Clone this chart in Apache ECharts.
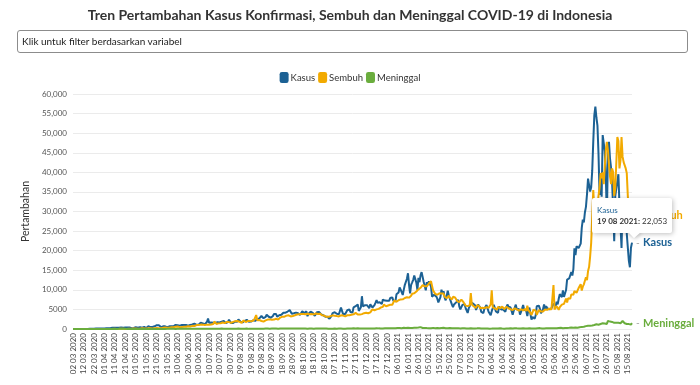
<!DOCTYPE html>
<html>
<head>
<meta charset="utf-8">
<script src="https://cdn.jsdelivr.net/npm/echarts@6/dist/echarts.min.js"></script>
<style>
  html, body { margin: 0; padding: 0; background: #fff; }
  #chart { position: absolute; left: 0; top: 0; width: 700px; height: 385px; }
  .filter {
    position: absolute; left: 17px; top: 30px; width: 665px; height: 21px;
    border: 1px solid #8c8c8c; border-radius: 3px; box-sizing: content-box;
    font: 10px Lato, sans-serif; color: #222; line-height: 21px; padding-left: 4px;
  }
</style>
</head>
<body>
<div id="chart"></div>
<div class="filter">Klik untuk filter berdasarkan variabel</div>
<script>
// data harian mulai 02 03 2020 (tanggal 01 07 2021 tidak ada di data)
const kasus2020 = [
  2,0,0,0,2,0,2,13,8,7,0,35,27,21,17,38,55,82,60,81,64,65,107,105,103,153,109,130,129,114, // mar
  149,113,196,106,181,218,247,218,337,219,330,399,316,282,297,380,407,325,327,185,375,283,357,436,396,275,214,415,260,347, // apr
  433,292,349,395,484,367,338,336,533,387,233,484,689,568,490,529,496,486,693,486,973,634,949,526,479,415,686,687,678,700,467, // mei
  609,684,585,703,993,672,847,1043,1241,979,1111,857,1014,1017,1106,1031,1331,1041,1226,862,954,1051,1113,1178,1385,1385,1198,1082,1293,1082, // jun
  1560,1624,1301,1447,1607,1209,1268,1853,2657,1611,1671,1681,1282,1591,1522,1574,1462,1752,1639,1693,1655,1882,1906,2040,1868,1492,1525,1748,2381,1904,1519, // jul
  1560,1519,1679,1922,1815,1882,2473,2277,1893,1687,1693,1942,2098,2307,2345,2081,1821,1673,1902,2266,2197,2037,2079,1877,2447,2306,2719,3003,3308,2858,2743, // agu
  2775,3075,3622,3269,3128,3444,2880,3046,3307,3861,3737,3806,3141,3636,3507,3963,3635,3891,4168,3989,4176,4071,4465,4634,4823,4494,3874,4012,4002,4284, // sep
  4174,4317,4007,3992,3622,4056,4538,4850,4094,4294,4497,3267,3906,4127,4411,4301,4105,4432,3373,3602,4267,4432,4369,4070,3732,3222,3520,4029,3143,2897,3143, // okt
  2696,2618,2973,3356,4065,4262,4262,4002,3880,3779,3770,4173,5444,5272,3807,3535,3807,4265,4798,4792,4998,4360,4442,4192,5534,5503,5828,5418,6267,4617, // nov
  5092,5533,8369,5803,6027,6089,5754,6058,6033,5292,6310,6388,5489,5489,6120,6725,7354,6689,6725,6848,6848,6347,7514,7199,7259,7518,7203,7159,7192,7903,8074 // des
];
const kasus2021 = [
  8072,7203,6877,7072,8854,8367,9321,10617,10046,9640,8692,10047,11278,11557,12818,14224,11287,9086,11287,11910,12568,13632,13802,11788,9994,13094,11948,13695,14518,13312,12001, // jan
  10994,9883,11984,11434,12156,11900,10827,8242,8700,8776,8435,8323,7750,6765,6462,8151,10029,9039,9687,8054,7300,7365,9775,8493,7735,8232,6208,5560, // feb
  6264,6613,6808,6971,7445,5767,4993,5079,6147,6473,6357,5414,5633,4092,5251,5825,6762,6279,6528,6069,6068,4849,5203,6242,5937,5461,4360,4671,4077,5156,5464, // mar
  6132,5656,4402,4095,3525,4549,5325,6177,6175,4471,4829,4127,5702,6020,4986,5465,4952,5041,4394,5549,6243,5720,5436,5488,4585,3643,4656,5445,6218,4930, // apr
  4711,5155,3662,4369,5242,6130,4926,4736,4605,3276,4891,5424,3781,2385,3080,2888,2633,3495,5797,5613,5980,5205,3999,3922,5060,6278,5205,5833,5296,5080,5018, // mei
  4824,5246,5353,6486,6594,5832,6993,6294,7725,8892,8892,8161,9868,8189,8161,9944,12624,12990,12906,13737,14536,13668,15308,20574,18872,21095,21342,20694,20467,21807, // jun
  25830,27913,27233,29745,31189,34379,38391,38124,35094,36197,40427,47899,54517,56757,54000,51952,44721,34257,38325,33772,49509,49071,45416,38679,28228,45203,47791,43479,41168,37284, // jul (02-31)
  30738,22404,33900,35867,35764,39532,31753,26415,20709,32081,30625,30788,28598,24308,20813,17384,15768,20741,22053 // agu
];

const sembuh2020 = [
  0,0,0,0,0,0,0,0,0,2,0,3,3,1,0,0,4,4,3,9,4,1,10,0,6,3,16,5,1,6,
  16,9,12,29,11,25,16,12,9,48,46,45,30,24,39,74,55,53,55,42,19,34,41,93,87,47,38,80,100,95,
  101,44,51,120,72,89,196,243,105,188,108,240,172,157,162,156,120,127,203,279,263,346,183,170,181,123,292,308,355,480,331,
  471,346,389,470,307,438,434,556,602,634,542,477,588,479,510,554,603,554,637,719,625,631,553,808,1033,759,764,1011,770,1027,
  1072,1120,1182,1113,1013,1000,1091,1116,1293,1102,1126,1141,1052,1252,1910,1489,1297,1371,1436,1533,1475,1476,1670,1655,1518,1625,1815,1820,1765,1818,1596,
  1578,1821,2038,2004,2189,2048,1834,1865,1611,1592,1769,2181,2190,1792,1881,2033,1656,2015,2159,2004,2042,2326,1917,3560,2235,1794,2307,2212,2040,2186,1913,
  2020,2216,2268,2402,2417,2453,2340,2351,2347,2405,2531,2620,2505,2410,2680,2910,2660,3145,3120,3132,3231,3411,3211,3509,3417,3213,3189,3313,3500,3499,
  3620,3707,3650,3770,3835,3812,3827,3812,4009,3745,4046,3904,3803,3766,3760,3805,3812,3732,3855,3946,3933,3829,3840,3900,3648,3481,3373,3425,3386,3125,3109,
  3125,3069,3271,3109,3497,3573,3359,3397,3290,3223,3193,3293,3487,3352,3419,3218,3231,3484,3508,3474,3501,3594,3655,3567,3747,3861,4103,3989,3718,3917,
  3673,3930,3803,3867,4040,3784,4132,4023,4015,4189,4259,4377,5011,4728,4779,4898,5006,5171,5142,5273,5476,5560,5639,6232,5991,5822,5734,6015,5938,6193,5827
];
const sembuh2021 = [
  6190,5745,7305,7045,6938,7098,7346,7549,7548,7367,7584,8089,7910,8075,8088,8089,8009,8302,8474,9014,8996,9101,9415,9567,9812,10123,10064,10521,10436,11206,10874,
  10898,11087,10933,11263,11612,11891,12186,10970,9838,9543,8972,9117,8736,8896,9105,8851,9051,8872,9045,8234,7900,7880,7895,8493,7964,8103,7550,8224,
  8264,8048,7634,7125,7150,6864,6450,7520,7205,6843,6563,5975,5890,5846,5892,6050,9180,6260,6155,5760,5600,5370,6089,6390,5820,5290,5340,5405,4946,5321,5436,
  5568,5510,5390,5145,6250,9900,5520,5488,5250,5610,4965,5640,5210,5340,5385,5720,5690,5100,4918,5660,6103,5300,5230,5040,4760,4850,5125,5255,5285,4990,
  4890,4690,4770,5050,5340,4760,4680,5140,4580,5950,4790,5150,4150,3580,3670,4980,4640,4650,3610,3650,4870,4580,4440,4750,4480,4040,4980,5180,4880,4900,5220,
  5330,4985,4820,11200,4980,5410,5800,6100,4890,5570,5920,6230,6030,6420,6100,7790,6760,7870,8120,7690,8840,8730,8770,9680,9190,9250,9590,10460,10800,11450,
  9800,10800,11400,12300,13200,12500,14800,15800,18500,22000,28700,35500,30500,33000,33000,31500,34000,36000,39800,38500,40000,37000,41500,45700,47800,45700,42000,39000,37000,41000,
  40000,34000,36000,42400,49000,48000,41000,43000,49000,44000,42600,42400,41000,39800,34000,30000,28500,31000,29100
];

const meninggal2020 = [
  0,0,0,0,0,0,0,0,0,1,0,3,1,1,0,0,12,6,7,7,10,1,1,3,3,4,11,9,0,8,
  14,13,11,10,10,7,11,10,40,26,21,24,26,25,40,46,33,15,47,8,42,21,19,22,13,25,12,13,21,14,
  7,31,6,16,29,11,24,27,13,16,21,16,14,12,16,10,21,19,23,17,20,35,21,14,15,19,20,28,27,24,32,
  19,41,35,50,49,53,56,29,33,36,41,36,34,45,41,34,42,43,48,49,45,38,45,41,49,44,39,50,51,37,
  56,53,66,71,47,70,58,58,63,58,61,71,63,87,59,84,76,59,86,71,58,117,65,82,59,57,74,65,74,74,62,
  44,73,66,64,64,66,100,65,64,53,79,79,65,58,118,68,34,80,79,69,82,86,85,73,79,64,92,92,93,109,70,
  104,99,110,105,87,85,70,105,88,107,114,109,94,92,124,135,113,114,105,104,128,160,128,103,114,128,87,113,123,120,
  116,123,108,116,98,105,91,108,127,105,86,95,104,123,103,103,104,81,94,123,103,116,100,112,103,113,109,125,92,118,100,
  80,78,91,105,89,102,106,102,82,91,99,104,104,104,86,90,78,110,103,103,118,96,113,118,169,141,125,130,169,85,
  118,100,156,174,130,147,116,144,140,120,125,167,143,155,128,135,201,158,160,221,156,175,151,200,200,155,166,268,216,177,216
];
const meninggal2021 = [
  187,203,225,178,187,240,233,242,224,208,156,302,306,254,246,340,217,255,346,257,297,288,336,307,228,387,387,476,210,264,269,
  238,250,224,279,217,236,214,159,287,211,217,245,250,244,186,186,262,227,324,188,209,228,181,251,243,250,189,184,
  219,173,192,190,222,176,118,136,179,185,167,134,138,108,124,133,193,151,115,112,105,113,160,149,178,127,116,102,109,110,149,
  109,121,119,75,125,107,128,145,111,102,111,107,140,171,176,109,140,90,121,116,117,142,101,194,193,127,155,203,185,165,
  163,159,135,100,163,190,178,144,151,126,176,194,144,123,156,128,123,143,174,197,199,224,130,139,145,149,163,185,188,164,132,
  160,169,184,142,163,214,166,130,251,256,299,238,193,176,267,267,251,283,297,294,355,294,316,358,379,409,325,455,445,467,
  539,493,555,558,728,1040,852,870,826,982,891,1007,1012,982,1205,1092,1093,1338,1280,1383,1449,1566,1415,1487,1266,2069,1824,1893,1759,1808,
  1604,1568,1747,1598,1739,1588,1588,1475,1475,2048,1579,1466,1432,1270,1467,1245,1128,1128,1492
];

const kasus = kasus2020.concat(kasus2021);
const sembuh = sembuh2020.concat(sembuh2021);
const meninggal = meninggal2020.concat(meninggal2021);

// label tanggal "dd mm yyyy", 02 03 2020 s.d. 19 08 2021 tanpa tanggal yang hilang
const tanggalHilang = ['01 07 2021'];
const pad = n => (n < 10 ? '0' : '') + n;
const tanggal = [];
for (let t = Date.UTC(2020, 2, 2); t <= Date.UTC(2021, 7, 19); t += 86400000) {
  const d = new Date(t);
  const s = pad(d.getUTCDate()) + ' ' + pad(d.getUTCMonth() + 1) + ' ' + d.getUTCFullYear();
  if (tanggalHilang.indexOf(s) < 0) tanggal.push(s);
}

const warna = { kasus: '#1c6194', sembuh: '#f2aa00', meninggal: '#6aad3d' };
const font = 'Lato, sans-serif';

const endLbl = (nama, c) => ({
  show: true,
  distance: 4,
  formatter: '{d|-} {n|' + nama + '}',
  rich: {
    d: { color: '#999', fontSize: 10, fontFamily: font },
    n: { color: c, fontSize: 11, fontWeight: 'bold', fontFamily: font }
  }
});

const last = kasus.length - 1;
const tipZ = 100;

const chart = echarts.init(document.getElementById('chart'));
chart.setOption({
  animation: false,
  color: [warna.kasus, warna.sembuh, warna.meninggal],
  title: {
    text: 'Tren Pertambahan Kasus Konfirmasi, Sembuh dan Meninggal COVID-19 di Indonesia',
    left: 'center',
    top: 3,
    textStyle: { fontFamily: font, fontSize: 14, fontWeight: 'bold', color: '#333' }
  },
  legend: {
    top: 67,
    left: 'center',
    itemWidth: 9,
    itemHeight: 11,
    itemGap: 3,
    icon: 'roundRect',
    textStyle: { fontFamily: font, fontSize: 9.5, color: '#333', padding: [0, 0, 0, -3] },
    data: ['Kasus', 'Sembuh', 'Meninggal']
  },
  grid: { left: 73, right: 68, top: 94, bottom: 56 },
  xAxis: {
    type: 'category',
    boundaryGap: false,
    data: tanggal,
    axisLine: { show: false },
    axisTick: { show: false },
    axisLabel: {
      interval: 9,
      rotate: 90,
      margin: 4,
      fontFamily: font,
      fontSize: 8,
      color: '#444'
    }
  },
  yAxis: {
    type: 'value',
    min: 0,
    max: 60000,
    interval: 5000,
    name: 'Pertambahan',
    nameLocation: 'middle',
    nameGap: 28,
    nameTextStyle: { fontFamily: font, fontSize: 10.5, color: '#333' },
    axisLabel: {
      fontFamily: font,
      fontSize: 8,
      color: '#555',
      margin: 6,
      formatter: v => (v >= 10000 ? v.toLocaleString('en-US') : String(v))
    },
    splitLine: { lineStyle: { color: '#ebebeb' } }
  },
  series: [
    { name: 'Kasus', type: 'line', data: kasus, showSymbol: false, lineStyle: { width: 2 }, endLabel: endLbl('Kasus', warna.kasus) },
    { name: 'Sembuh', type: 'line', data: sembuh, showSymbol: false, lineStyle: { width: 2 }, endLabel: endLbl('Sembuh', warna.sembuh) },
    { name: 'Meninggal', type: 'line', data: meninggal, showSymbol: false, lineStyle: { width: 2 }, endLabel: endLbl('Meninggal', warna.meninggal) }
  ],
  // kotak tooltip statis untuk titik terakhir Kasus
  graphic: [
    {
      type: 'polygon', z: tipZ,
      shape: { points: [[628, 231], [641, 231], [634, 238]] },
      style: { fill: '#fff', shadowBlur: 4, shadowColor: 'rgba(0,0,0,0.25)', shadowOffsetX: 1, shadowOffsetY: 1 }
    },
    {
      type: 'rect', z: tipZ,
      shape: { x: 592, y: 198, width: 80, height: 35, r: 2 },
      style: { fill: '#fff', shadowBlur: 5, shadowColor: 'rgba(0,0,0,0.25)', shadowOffsetX: 1, shadowOffsetY: 1 }
    },
    {
      type: 'polygon', z: tipZ,
      shape: { points: [[628, 232], [641, 232], [634, 238]] },
      style: { fill: '#fff' }
    },
    {
      type: 'text', z: tipZ,
      x: 597, y: 206,
      style: { text: 'Kasus', fill: warna.kasus, font: '8px ' + font }
    },
    {
      type: 'text', z: tipZ,
      x: 597, y: 217,
      style: {
        text: '{b|' + tanggal[last] + ':} ' + kasus[last].toLocaleString('en-US'),
        fill: '#333',
        font: '8px ' + font,
        rich: { b: { fontWeight: 'bold', fontSize: 8, fontFamily: font, fill: '#333' } }
      }
    }
  ]
});
</script>
</body>
</html>
